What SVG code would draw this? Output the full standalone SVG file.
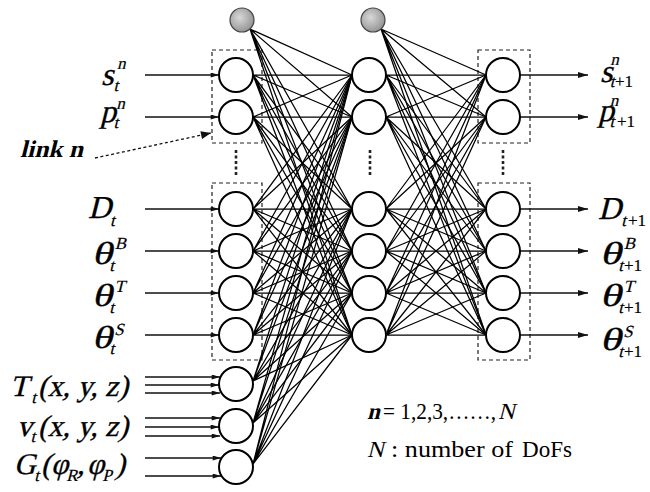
<svg xmlns="http://www.w3.org/2000/svg" width="650" height="492" viewBox="0 0 650 492">
<style>
.node{fill:#fff;stroke:#000;stroke-width:2}
.bias{fill:url(#gb);stroke:#444;stroke-width:1.2}
.box{fill:none;stroke:#222;stroke-width:1.2;stroke-dasharray:4 3}
.dots{stroke:#222;stroke-width:2.6;stroke-dasharray:3 2.5}
.w{fill:none;stroke:#000;stroke-width:1.25;stroke-linecap:round}
.in{stroke:#111;stroke-width:1.5;marker-end:url(#ahin)}
.out{stroke:#111;stroke-width:1.5;marker-end:url(#ahout)}
text{font-family:"Liberation Serif","Times New Roman",serif;fill:#000;font-style:normal}
.l{font-size:30px;stroke:#000;stroke-width:0.35}
.b{font-size:32px}
.s{font-size:17px;stroke-width:0.2}
</style>
<defs>
<radialGradient id="gb" cx="0.4" cy="0.4" r="0.7">
<stop offset="0" stop-color="#d8d8d8"/>
<stop offset="1" stop-color="#8c8c8c"/>
</radialGradient>
<marker id="ahin" viewBox="0 0 10 6" refX="10" refY="3" markerWidth="10" markerHeight="5" markerUnits="userSpaceOnUse" orient="auto">
<path d="M0,0L10,3L0,6z" fill="#111"/>
</marker>
<marker id="ahout" viewBox="0 0 10 6" refX="10" refY="3" markerWidth="16" markerHeight="6" markerUnits="userSpaceOnUse" orient="auto">
<path d="M0,0L10,3L0,6z" fill="#111"/>
</marker>
<marker id="ahlink" viewBox="0 0 10 8" refX="10" refY="4" markerWidth="11" markerHeight="8" markerUnits="userSpaceOnUse" orient="auto">
<path d="M0,0L10,4L0,8z" fill="#111"/>
</marker>
</defs>

<g id="boxes">
<rect class="box" x="212" y="50" width="50" height="93"/>
<rect class="box" x="212" y="183" width="50" height="177"/>
<rect class="box" x="478" y="50" width="52" height="93"/>
<rect class="box" x="478" y="183" width="52" height="177"/>
<line class="dots" x1="236" y1="150" x2="236" y2="177"/>
<line class="dots" x1="370" y1="150" x2="370" y2="177"/>
<line class="dots" x1="503" y1="150" x2="503" y2="177"/>
</g>

<g id="connectors">
<path class="w" d="M250 29L352 75M250 29L352 117M250 29L352 209M250 29L352 251M250 29L352 293M250 29L352 335"/>
<path class="w" d="M253 75L352 75M253 75L352 117M253 75L352 209M253 75L352 251M253 75L352 293M253 75L352 335"/>
<path class="w" d="M253 117L352 75M253 117L352 117M253 117L352 209M253 117L352 251M253 117L352 293M253 117L352 335"/>
<path class="w" d="M253 209L352 75M253 209L352 117M253 209L352 209M253 209L352 251M253 209L352 293M253 209L352 335"/>
<path class="w" d="M253 251L352 75M253 251L352 117M253 251L352 209M253 251L352 251M253 251L352 293M253 251L352 335"/>
<path class="w" d="M253 293L352 75M253 293L352 117M253 293L352 209M253 293L352 251M253 293L352 293M253 293L352 335"/>
<path class="w" d="M253 335L352 75M253 335L352 117M253 335L352 209M253 335L352 251M253 335L352 293M253 335L352 335"/>
<path class="w" d="M253 381L352 75M253 381L352 117M253 381L352 209M253 381L352 251M253 381L352 293M253 381L352 335"/>
<path class="w" d="M253 423L352 75M253 423L352 117M253 423L352 209M253 423L352 251M253 423L352 293M253 423L352 335"/>
<path class="w" d="M253 464L352 75M253 464L352 117M253 464L352 209M253 464L352 251M253 464L352 293M253 464L352 335"/>
<path class="w" d="M381 29L486 75M381 29L486 117M381 29L486 209M381 29L486 251M381 29L486 293M381 29L486 335"/>
<path class="w" d="M386 75L486 75M386 75L486 117M386 75L486 209M386 75L486 251M386 75L486 293M386 75L486 335"/>
<path class="w" d="M386 117L486 75M386 117L486 117M386 117L486 209M386 117L486 251M386 117L486 293M386 117L486 335"/>
<path class="w" d="M386 209L486 75M386 209L486 117M386 209L486 209M386 209L486 251M386 209L486 293M386 209L486 335"/>
<path class="w" d="M386 251L486 75M386 251L486 117M386 251L486 209M386 251L486 251M386 251L486 293M386 251L486 335"/>
<path class="w" d="M386 293L486 75M386 293L486 117M386 293L486 209M386 293L486 251M386 293L486 293M386 293L486 335"/>
<path class="w" d="M386 335L486 75M386 335L486 117M386 335L486 209M386 335L486 251M386 335L486 293M386 335L486 335"/>
<line class="in" x1="145" y1="75" x2="219" y2="75"/>
<line class="in" x1="145" y1="117" x2="219" y2="117"/>
<line class="in" x1="145" y1="209" x2="219" y2="209"/>
<line class="in" x1="145" y1="251" x2="219" y2="251"/>
<line class="in" x1="145" y1="293" x2="219" y2="293"/>
<line class="in" x1="145" y1="335" x2="219" y2="335"/>
<line class="in" x1="145" y1="377" x2="220" y2="377"/>
<line class="in" x1="145" y1="385" x2="219" y2="385"/>
<line class="in" x1="145" y1="393" x2="220" y2="393"/>
<line class="in" x1="145" y1="418" x2="220" y2="418"/>
<line class="in" x1="145" y1="427" x2="219" y2="427"/>
<line class="in" x1="145" y1="436" x2="220" y2="436"/>
<line class="in" x1="145" y1="458" x2="221" y2="458"/>
<line class="in" x1="145" y1="476" x2="221" y2="476"/>
<line class="out" x1="520" y1="75" x2="588" y2="75"/>
<line class="out" x1="520" y1="117" x2="588" y2="117"/>
<line class="out" x1="520" y1="209" x2="588" y2="209"/>
<line class="out" x1="520" y1="251" x2="588" y2="251"/>
<line class="out" x1="520" y1="293" x2="588" y2="293"/>
<line class="out" x1="520" y1="335" x2="588" y2="335"/>
<line x1="95" y1="158" x2="211" y2="133" stroke="#111" stroke-width="1.3" stroke-dasharray="3 2.5" marker-end="url(#ahlink)"/>
</g>

<g id="bias1"><circle class="bias" cx="242" cy="20" r="12"/></g>
<g id="bias2"><circle class="bias" cx="373" cy="20" r="12"/></g>

<g id="input-layer">
<circle id="in-s" class="node" cx="236" cy="75" r="17"/>
<circle id="in-p" class="node" cx="236" cy="117" r="17"/>
<circle id="in-D" class="node" cx="236" cy="209" r="17"/>
<circle id="in-thB" class="node" cx="236" cy="251" r="17"/>
<circle id="in-thT" class="node" cx="236" cy="293" r="17"/>
<circle id="in-thS" class="node" cx="236" cy="335" r="17"/>
<circle id="in-T" class="node" cx="236" cy="384" r="17"/>
<circle id="in-v" class="node" cx="236" cy="426" r="17"/>
<circle id="in-G" class="node" cx="236" cy="467" r="17"/>
</g>
<g id="hidden-layer">
<circle class="node" cx="369" cy="75" r="17"/>
<circle class="node" cx="369" cy="117" r="17"/>
<circle class="node" cx="369" cy="209" r="17"/>
<circle class="node" cx="369" cy="251" r="17"/>
<circle class="node" cx="369" cy="293" r="17"/>
<circle class="node" cx="369" cy="335" r="17"/>
</g>
<g id="output-layer">
<circle class="node" cx="503" cy="75" r="17"/>
<circle class="node" cx="503" cy="117" r="17"/>
<circle class="node" cx="503" cy="209" r="17"/>
<circle class="node" cx="503" cy="251" r="17"/>
<circle class="node" cx="503" cy="293" r="17"/>
<circle class="node" cx="503" cy="335" r="17"/>
</g>

<g id="input-labels">
<g transform="translate(101,85) skewX(-14)"><text class="l"><tspan class="b" x="0" y="0">s</tspan><tspan class="s" x="12" y="-16">n</tspan><tspan class="s" x="14" y="6">t</tspan></text></g>
<g transform="translate(100,122) skewX(-14)"><text class="l"><tspan class="b" x="0" y="0">p</tspan><tspan class="s" x="13" y="-13">n</tspan><tspan class="s" x="15" y="6">t</tspan></text></g>
<g transform="translate(88,218) skewX(-14)"><text class="l"><tspan class="b" x="0" y="0">D</tspan><tspan class="s" x="24" y="8">t</tspan></text></g>
<g transform="translate(92,264) skewX(-14)"><text class="l"><tspan class="b" x="0" y="0" textLength="20" lengthAdjust="spacingAndGlyphs">θ</tspan><tspan class="s" x="19" y="-15">B</tspan><tspan class="s" x="19" y="7">t</tspan></text></g>
<g transform="translate(92,306) skewX(-14)"><text class="l"><tspan class="b" x="0" y="0" textLength="20" lengthAdjust="spacingAndGlyphs">θ</tspan><tspan class="s" x="19" y="-14">T</tspan><tspan class="s" x="19" y="7">t</tspan></text></g>
<g transform="translate(92,348) skewX(-14)"><text class="l"><tspan class="b" x="0" y="0" textLength="20" lengthAdjust="spacingAndGlyphs">θ</tspan><tspan class="s" x="19" y="-13">S</tspan><tspan class="s" x="19" y="6">t</tspan></text></g>
<g transform="translate(10,396) skewX(-14)"><text class="l"><tspan x="0" y="0">T</tspan><tspan class="s" x="23" y="7">t</tspan><tspan x="28" y="0" textLength="90" lengthAdjust="spacingAndGlyphs">(x, y, z)</tspan></text></g>
<g transform="translate(17,436) skewX(-14)"><text class="l"><tspan x="0" y="0">v</tspan><tspan class="s" x="15" y="6">t</tspan><tspan x="21" y="0" textLength="90" lengthAdjust="spacingAndGlyphs">(x, y, z)</tspan></text></g>
<g transform="translate(14,474) skewX(-14)"><text class="l"><tspan x="0" y="0">G</tspan><tspan class="s" x="22" y="7">t</tspan><tspan x="27" y="0">(</tspan><tspan x="37" y="0">φ</tspan><tspan class="s" x="54" y="7">R</tspan><tspan x="63" y="0">,</tspan><tspan x="73" y="0">φ</tspan><tspan class="s" x="90" y="7">P</tspan><tspan x="101" y="0">)</tspan></text></g>
<g transform="translate(20,157) skewX(-14)"><text font-size="24" font-weight="bold" x="0" y="0" textLength="63" lengthAdjust="spacingAndGlyphs">link n</text></g>
</g>

<g id="output-labels">
<g transform="translate(600,82) skewX(-14)"><text class="l"><tspan class="b" x="0" y="0">s</tspan><tspan class="s" x="6" y="-17">n</tspan><tspan class="s" x="11" y="5">t</tspan></text></g>
<text class="l s" x="615" y="87">+1</text>
<g transform="translate(598,121) skewX(-14)"><text class="l"><tspan class="b" x="0" y="0">p</tspan><tspan class="s" x="8" y="-15">n</tspan><tspan class="s" x="13" y="6">t</tspan></text></g>
<text class="l s" x="617" y="127">+1</text>
<g transform="translate(598,219) skewX(-14)"><text class="l"><tspan class="b" x="0" y="0">D</tspan><tspan class="s" x="25" y="7">t</tspan></text></g>
<text class="l s" x="628" y="226">+1</text>
<g transform="translate(600,264) skewX(-14)"><text class="l"><tspan class="b" x="0" y="0" textLength="21" lengthAdjust="spacingAndGlyphs">θ</tspan><tspan class="s" x="20" y="-15">B</tspan><tspan class="s" x="20" y="7">t</tspan></text></g>
<text class="l s" x="624" y="271">+1</text>
<g transform="translate(600,306) skewX(-14)"><text class="l"><tspan class="b" x="0" y="0" textLength="21" lengthAdjust="spacingAndGlyphs">θ</tspan><tspan class="s" x="20" y="-14">T</tspan><tspan class="s" x="20" y="7">t</tspan></text></g>
<text class="l s" x="624" y="313">+1</text>
<g transform="translate(600,350) skewX(-14)"><text class="l"><tspan class="b" x="0" y="0" textLength="21" lengthAdjust="spacingAndGlyphs">θ</tspan><tspan class="s" x="20" y="-13">S</tspan><tspan class="s" x="20" y="7">t</tspan></text></g>
<text class="l s" x="624" y="357">+1</text>
</g>

<g id="notes">
<g transform="translate(367,419) skewX(-14)"><text font-size="23" font-weight="bold" x="0" y="0">n</text></g>
<text x="383" y="419" font-size="23" textLength="113" lengthAdjust="spacingAndGlyphs">= 1,2,3,……,</text>
<g transform="translate(498,419) skewX(-14)"><text font-size="23" x="0" y="0">N</text></g>
<g transform="translate(367,457) skewX(-14)"><text font-size="23" x="0" y="0">N</text></g>
<text x="391" y="457" font-size="23" textLength="122" lengthAdjust="spacingAndGlyphs">: number of</text>
<text x="522" y="457" font-size="23" textLength="50" lengthAdjust="spacingAndGlyphs">DoFs</text>
</g>
</svg>
